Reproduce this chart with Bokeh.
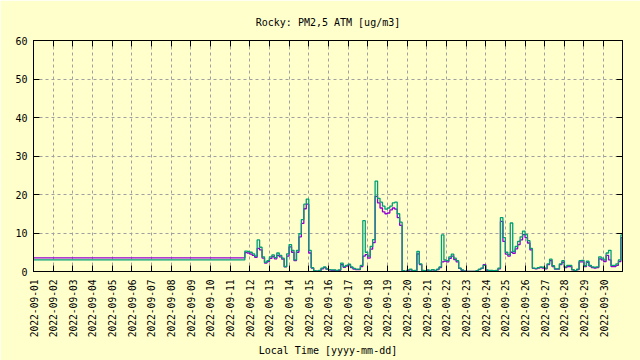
import math
import pandas as pd
from bokeh.plotting import figure
from bokeh.models import Range1d, FixedTicker, DatetimeTickFormatter, DatetimeAxis, LinearAxis
from bokeh.embed import file_html
from bokeh.resources import INLINE

title_text = "Rocky: PM2,5 ATM [ug/m3]"
x_label = "Local Time [yyyy-mm-dd]"
tick_labels = [
    "2022-09-01", "2022-09-02", "2022-09-03", "2022-09-04", "2022-09-05",
    "2022-09-06", "2022-09-07", "2022-09-08", "2022-09-09", "2022-09-10",
    "2022-09-11", "2022-09-12", "2022-09-13", "2022-09-14", "2022-09-15",
    "2022-09-16", "2022-09-17", "2022-09-18", "2022-09-19", "2022-09-20",
    "2022-09-21", "2022-09-22", "2022-09-23", "2022-09-24", "2022-09-25",
    "2022-09-26", "2022-09-27", "2022-09-28", "2022-09-29", "2022-09-30",
]
y_ticks = [0, 10, 20, 30, 40, 50, 60]
x_start = "2022-09-01 00:00"
x_end = "2022-09-30 23:00"

# flat section at the start
flat_start = "2022-09-01 00:00"
flat_green = 3.0
flat_purple = 3.55

# 3-hourly readings from 2022-09-11 18:00
series_start = "2022-09-11 18:00"
step_hours = 3
green = [
    5.3, 5.2,
    5.0, 4.6, 4.0, 8.2, 6.3, 3.8, 2.4, 2.8,
    3.8, 4.3, 3.6, 4.8, 4.2, 3.5, 1.3, 4.6,
    7.0, 5.5, 3.0, 5.5, 9.8, 13.5, 17.5, 18.8,
    5.5, 1.0, 0.2, 0.1, 0.3, 0.9, 1.2, 0.7,
    0.5, 0.4, 0.4, 0.3, 0.4, 2.2, 1.3, 1.6,
    1.9, 1.2, 0.8, 0.6, 0.6, 1.6, 13.2, 5.0,
    4.0, 6.5, 8.3, 23.5, 19.0, 18.0, 17.0, 16.2,
    16.5, 17.0, 17.8, 18.0, 15.0, 12.8, 0.2, 0.0,
    0.4, 0.6, 0.2, 0.3, 5.2, 2.0, 0.3, 0.2,
    0.4, 0.3, 0.5, 0.3, 0.6, 1.2, 9.5, 3.0,
    2.8, 3.8, 4.5, 3.5, 2.8, 0.9, 0.4, 0.1,
    0.0, 0.0, 0.0, 0.0, 0.2, 0.6, 0.9, 1.6,
    0.4, 0.3, 0.3, 0.2, 0.3, 0.9, 14.0, 8.8,
    5.0, 4.4, 12.6, 5.2, 6.5, 7.8, 9.0, 10.5,
    9.6, 8.0, 6.0, 0.9, 0.8, 1.0, 1.2, 1.1,
    0.9, 2.0, 3.2, 1.5, 0.7, 0.7, 2.0, 2.8,
    1.2, 1.6, 1.6, 0.5, 0.2, 0.6, 2.8, 2.9,
    1.5, 2.7, 1.6, 1.2, 1.1, 1.2, 3.8, 3.5,
    3.0, 4.8, 5.5, 1.6, 1.6, 2.0, 3.0, 9.5,
    9.5,
]
purple = [
    4.9, 4.8,
    4.5, 4.2, 3.7, 6.0, 5.6, 3.5, 2.2, 2.6,
    3.4, 3.9, 3.3, 4.2, 3.8, 3.2, 1.2, 4.0,
    6.4, 5.0, 2.8, 5.0, 9.0, 12.5, 16.3, 17.5,
    4.8, 0.9, 0.1, 0.1, 0.2, 0.7, 1.0, 0.6,
    0.4, 0.3, 0.3, 0.2, 0.3, 1.8, 1.1, 1.4,
    1.7, 1.0, 0.6, 0.5, 0.5, 1.3, 4.0, 4.4,
    3.5, 5.8, 7.5, 19.5, 17.8, 16.5, 15.5, 15.0,
    15.2, 16.0, 16.5, 16.2, 14.0, 12.0, 0.1, 0.0,
    0.3, 0.4, 0.1, 0.2, 4.6, 1.8, 0.2, 0.1,
    0.3, 0.2, 0.4, 0.2, 0.5, 1.0, 2.5, 2.7,
    2.5, 3.4, 4.0, 3.1, 2.5, 0.8, 0.3, 0.1,
    0.0, 0.0, 0.0, 0.0, 0.1, 0.5, 0.8, 1.8,
    0.3, 0.2, 0.2, 0.1, 0.2, 0.7, 13.0, 7.8,
    4.5, 4.0, 5.0, 4.7, 5.9, 7.0, 8.2, 9.6,
    8.8, 7.4, 5.6, 0.8, 0.7, 0.9, 1.0, 0.9,
    0.7, 1.8, 2.8, 1.3, 0.6, 0.6, 1.8, 2.4,
    1.0, 1.3, 1.3, 0.4, 0.1, 0.5, 2.5, 2.5,
    1.3, 2.4, 1.4, 1.0, 0.9, 1.0, 3.3, 3.0,
    2.6, 4.2, 3.0, 1.3, 1.3, 1.6, 2.6, 8.8,
    8.8,
]

times = [pd.Timestamp(flat_start)] + list(
    pd.date_range(series_start, periods=len(green), freq=f"{step_hours}h"))
green_y = [flat_green] + green
purple_y = [flat_purple] + purple

tick_ms = [pd.Timestamp(s).value // 10**6 for s in tick_labels]

FONT = "DejaVu Sans Mono"
BG = "#ffffcc"
GRID = "#a0a0a0"

p = figure(width=640, height=360, x_axis_type="datetime",
           output_backend="svg", toolbar_location=None,
           x_range=Range1d(pd.Timestamp(x_start), pd.Timestamp(x_end)),
           y_range=Range1d(y_ticks[0], y_ticks[-1]),
           min_border_left=33, min_border_right=18,
           min_border_top=40, min_border_bottom=89)
p.background_fill_color = BG
p.border_fill_color = BG
p.outline_line_color = "black"
p.outline_line_width = 1

p.title.text = title_text
p.title.align = "center"
p.title.vertical_align = "top"
p.title.text_font = FONT
p.title.text_font_size = "10px"
p.title.text_font_style = "normal"
p.title.text_color = "black"
p.title.standoff = 22

fmt = "%Y-%m-%d"
formatter = DatetimeTickFormatter(
    microseconds=fmt, milliseconds=fmt, seconds=fmt, minsec=fmt, minutes=fmt,
    hourmin=fmt, hours=fmt, days=fmt, months=fmt, years=fmt)

xticker = FixedTicker(ticks=tick_ms)
yticker = FixedTicker(ticks=y_ticks)

def style_axis(ax, show_labels):
    ax.axis_line_color = "black"
    ax.major_tick_line_color = "black"
    ax.major_tick_in = 6
    ax.major_tick_out = 0
    ax.minor_tick_line_color = None
    if show_labels:
        ax.major_label_text_font = FONT
        ax.major_label_text_font_size = "10px"
        ax.major_label_text_color = "black"
    else:
        ax.major_label_text_font_size = "0px"
        ax.major_label_text_color = None
        ax.major_label_standoff = 0

xa = p.xaxis[0]
xa.ticker = xticker
xa.formatter = formatter
style_axis(xa, True)
xa.major_label_text_font_size = "9.6px"
xa.major_label_orientation = math.pi / 2
xa.major_label_standoff = 8
xa.axis_label = x_label
xa.axis_label_text_font = FONT
xa.axis_label_text_font_size = "10px"
xa.axis_label_text_font_style = "normal"
xa.axis_label_text_color = "black"
xa.axis_label_standoff = 5

ya = p.yaxis[0]
ya.ticker = yticker
style_axis(ya, True)
ya.major_label_standoff = 6

top = DatetimeAxis(ticker=xticker, formatter=formatter)
style_axis(top, False)
p.add_layout(top, "above")
right = LinearAxis(ticker=yticker)
style_axis(right, False)
p.add_layout(right, "right")

for g, t in ((p.xgrid[0], xticker), (p.ygrid[0], yticker)):
    g.ticker = t
    g.grid_line_color = GRID
    g.grid_line_dash = "3 3"
    g.grid_line_width = 1

p.step(times, purple_y, mode="after", line_color="#9400d3", line_width=1.3)
p.step(times, green_y, mode="after", line_color="#009e73", line_width=1.3)

open("out.html", "w").write(file_html(p, INLINE))
